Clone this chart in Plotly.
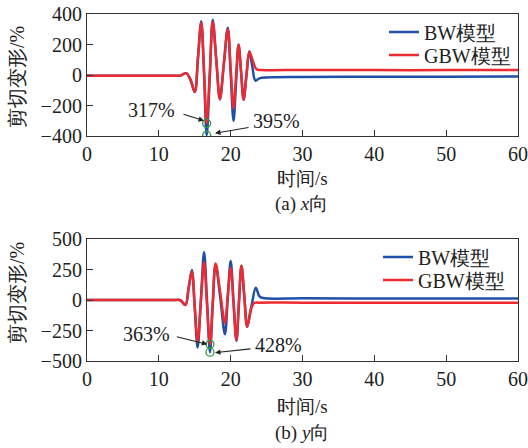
import plotly.graph_objects as go

# ---------------- data ----------------
# (a) x direction
t_x_bw = [0, 6, 12.0, 13.0, 13.8, 14.4, 15.0, 15.45, 15.9, 16.3, 16.66, 17.1, 17.5, 18.0, 18.5,
          19.05, 19.6, 20.0, 20.4, 20.75, 21.1, 21.45, 21.8, 22.2, 22.6, 23.0, 23.45, 24.0, 25.0,
          30, 40, 50, 60]
bw_x = [-5, -5, -5, -4, 12, -30, -112, 115, 352, 0, -395, 0, 362, 100, -160,
        75, 310, 10, -300, -50, 200, 20, -162, 0, 155, 60, -37, -22, -16,
        -13, -12, -11, -10]
t_x_gbw = [0, 6, 12.0, 13.0, 13.8, 14.4, 15.0, 15.45, 15.9, 16.3, 16.66, 17.1, 17.5, 18.0, 18.5,
           19.05, 19.6, 20.0, 20.4, 20.75, 21.1, 21.45, 21.8, 22.2, 22.6, 23.1, 23.6, 24.3,
           30, 40, 50, 60]
gbw_x = [-5, -5, -5, -4, 12, -30, -110, 110, 343, 20, -317, 20, 350, 95, -157,
         70, 300, 40, -219, -10, 197, 20, -160, 0, 153, 90, 37, 33,
         33, 32, 32, 32]
peak_t_x = [16.66, 16.66]
peak_v_x = [-317, -395]

# (b) y direction
t_y_bw = [0, 6, 12.0, 13.0, 13.7, 14.15, 14.6, 15.0, 15.4, 15.85, 16.3, 16.7, 17.12, 17.5, 17.9,
          18.55, 19.2, 19.6, 20.0, 20.4, 20.8, 21.15, 21.5, 21.9, 22.3, 22.9, 23.5, 24.0, 24.5,
          30, 40, 50, 60]
bw_y = [0, 0, 0, -2, -41, 100, 245, -70, -390, 0, 391, 0, -428, -40, 290,
        20, -280, 20, 320, -10, -335, -25, 281, 30, -219, -50, 101, 30, 16,
        14, 13, 12, 12]
t_y_gbw = [0, 6, 12.0, 13.0, 13.7, 14.15, 14.6, 15.0, 15.4, 15.85, 16.3, 16.7, 17.12, 17.5, 17.9,
           18.55, 19.2, 19.6, 20.0, 20.4, 20.8, 21.15, 21.5, 21.9, 22.3, 22.8, 23.3, 24.0,
           30, 40, 50, 60]
gbw_y = [0, 0, 0, -2, -41, 95, 233, -50, -342, -15, 309, -30, -363, -30, 300,
         60, -190, 40, 265, -30, -328, -20, 281, 30, -219, -80, -25, -22,
         -22, -22, -22, -22]
peak_t_y = [17.12, 17.12]
peak_v_y = [-363, -428]

series_names = ["BW模型", "GBW模型"]
x_ticks = [0, 10, 20, 30, 40, 50, 60]
y_ticks_a = [-400, -200, 0, 200, 400]
y_ticks_b = [-500, -250, 0, 250, 500]

# ---------------- style ----------------
W, H = 528, 448
L, R, T, B = 87, 10, 14, 87
PW, PH = W - L - R, H - T - B
BLUE = "#1f4fa8"
RED = "#ec2a2f"
GREEN = "#2e9a3e"
FONT = "Liberation Serif"
TXT = "#222"


def px(xp):
    return (xp - L) / PW


def py(yp):
    return (H - B - yp) / PH


fig = go.Figure()

line_w = 2.5
# top panel
fig.add_trace(go.Scatter(x=t_x_bw, y=bw_x, name=series_names[0], mode="lines",
                         line=dict(color=BLUE, width=line_w, shape="spline"),
                         xaxis="x", yaxis="y", legend="legend"))
fig.add_trace(go.Scatter(x=t_x_gbw, y=gbw_x, name=series_names[1], mode="lines",
                         line=dict(color=RED, width=line_w, shape="spline"),
                         xaxis="x", yaxis="y", legend="legend2"))
fig.add_trace(go.Scatter(x=peak_t_x, y=peak_v_x, mode="markers", showlegend=False,
                         marker=dict(symbol="circle-open", size=8, color=GREEN,
                                     line=dict(width=1.3, color=GREEN)),
                         xaxis="x", yaxis="y"))
# bottom panel
fig.add_trace(go.Scatter(x=t_y_bw, y=bw_y, name=series_names[0], mode="lines",
                         line=dict(color=BLUE, width=line_w, shape="spline"),
                         xaxis="x2", yaxis="y2", legend="legend3"))
fig.add_trace(go.Scatter(x=t_y_gbw, y=gbw_y, name=series_names[1], mode="lines",
                         line=dict(color=RED, width=line_w, shape="spline"),
                         xaxis="x2", yaxis="y2", legend="legend4"))
fig.add_trace(go.Scatter(x=peak_t_y, y=peak_v_y, mode="markers", showlegend=False,
                         marker=dict(symbol="circle-open", size=8, color=GREEN,
                                     line=dict(width=1.3, color=GREEN)),
                         xaxis="x2", yaxis="y2"))

axis_common = dict(showline=True, mirror=True, linecolor="#333", linewidth=1.2,
                   ticks="inside", ticklen=6, tickwidth=1.2, tickcolor="#333",
                   showgrid=False, zeroline=False, automargin=False,
                   ticklabeloverflow="allow",
                   tickfont=dict(family=FONT, size=20, color=TXT))

top_dom = [py(136), 1.0]
bot_dom = [0.0, py(239)]


def leg(xl, yc):
    return dict(x=px(xl), y=py(yc), xanchor="left", yanchor="middle",
                bgcolor="rgba(0,0,0,0)", borderwidth=0, tracegroupgap=0,
                font=dict(family=FONT, size=20, color=TXT))


fig.update_layout(
    width=W, height=H,
    margin=dict(l=L, r=R, t=T, b=B, autoexpand=False),
    plot_bgcolor="white", paper_bgcolor="white",
    xaxis=dict(domain=[0, 1], range=[0, 60], tickvals=x_ticks, anchor="y", **axis_common),
    yaxis=dict(domain=top_dom, range=[-400, 400], tickvals=y_ticks_a, anchor="x", **axis_common),
    xaxis2=dict(domain=[0, 1], range=[0, 60], tickvals=x_ticks, anchor="y2", **axis_common),
    yaxis2=dict(domain=bot_dom, range=[-500, 500], tickvals=y_ticks_b, anchor="x2", **axis_common),
    legend=leg(384, 32),
    legend2=leg(384, 55),
    legend3=leg(378, 257),
    legend4=leg(378, 280),
    showlegend=True,
)

ann = []


def text_ann(text, xc, yc, size, angle=0):
    ann.append(dict(text=text, xref="paper", yref="paper", x=px(xc), y=py(yc),
                    xanchor="center", yanchor="middle", showarrow=False, textangle=angle,
                    font=dict(family=FONT, size=size, color=TXT)))


# axis titles and captions
text_ann("剪切变形/%", 17, 77, 20, -90)
text_ann("剪切变形/%", 17, 293, 20, -90)
text_ann("时间/s", 302.5, 178.7, 19)
text_ann("时间/s", 302.5, 406.7, 19)
text_ann("(a) <i>x</i>向", 301.5, 204, 19)
text_ann("(b) <i>y</i>向", 301.5, 432.5, 19)

# peak labels
text_ann("317%", 151.5, 109.5, 20)
text_ann("395%", 276.7, 120.5, 20)
text_ann("363%", 146, 334, 20)
text_ann("428%", 278, 345, 20)

# arrows
arrow_style = dict(text="", showarrow=True, arrowhead=2, arrowsize=1, arrowwidth=1.1,
                   arrowcolor=TXT, standoff=0)
ann.append(dict(xref="x", yref="y", x=16.29, y=-300, ax=-22, ay=-7, **arrow_style))
ann.append(dict(xref="x", yref="y", x=17.82, y=-382, ax=35, ay=-6, **arrow_style))
ann.append(dict(xref="x2", yref="y2", x=16.75, y=-363, ax=-32, ay=-8, **arrow_style))
ann.append(dict(xref="x2", yref="y2", x=17.82, y=-432, ax=37, ay=-4, **arrow_style))

fig.update_layout(annotations=ann)
fig.write_html("out.html",
               config={"displayModeBar": False},
               post_script="document.body.style.margin='0';"
                           "document.body.style.overflow='hidden';")
